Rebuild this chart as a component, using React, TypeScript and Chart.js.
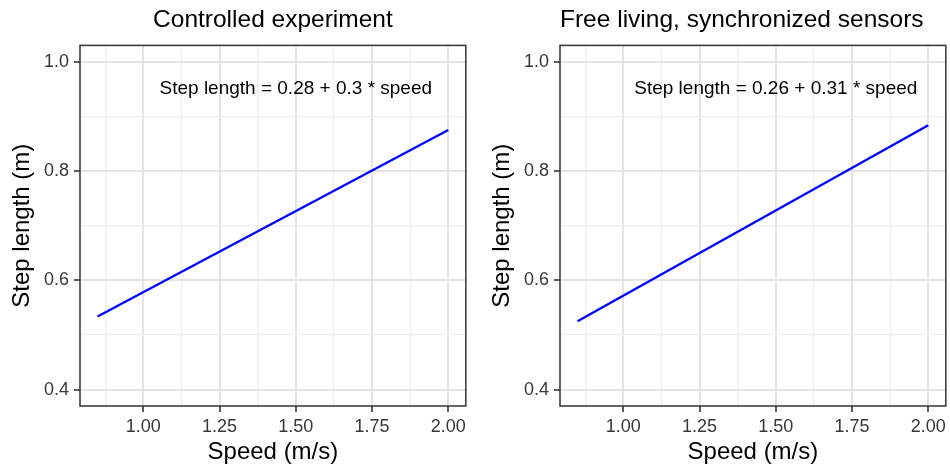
import React, { useEffect, useRef } from "react";
import { Chart, registerables } from "chart.js";

Chart.register(...registerables);

// ---- data ----
const panelTitles = ["Controlled experiment", "Free living, synchronized sensors"];
const equationLabels = [
  "Step length = 0.28 + 0.3 * speed",
  "Step length = 0.26 + 0.31 * speed",
];
const speedValues = [0.85, 2.0];
const stepLengthControlled = [0.534, 0.875];
const stepLengthFreeLiving = [0.525, 0.884];
const xMajorTicks = [1.0, 1.25, 1.5, 1.75, 2.0];
const xMinorTicks = [0.875, 1.125, 1.375, 1.625, 1.875];
const yMajorTicks = [0.4, 0.6, 0.8, 1.0];
const yMinorTicks = [0.5, 0.7, 0.9];
const xLimits = [0.7925, 2.0575];
const yLimits = [0.37, 1.03];
const equationPosition = [1.5, 0.95];
const xAxisTitle = "Speed (m/s)";
const yAxisTitle = "Step length (m)";

const FONT = '"Liberation Sans", Arial, Helvetica, sans-serif';

const isIn = (list: number[], v: number) => list.some((m) => Math.abs(m - v) < 1e-9);

function buildChart(canvas: HTMLCanvasElement, idx: number) {
  const values = idx === 0 ? stepLengthControlled : stepLengthFreeLiving;
  const xTicks = [...xMinorTicks, ...xMajorTicks].sort((a, b) => a - b);
  const yTicks = [...yMinorTicks, ...yMajorTicks].sort((a, b) => a - b);

  const borderPlugin = {
    id: "panelBorder",
    afterDraw(chart: any) {
      const { ctx, chartArea } = chart;
      ctx.save();
      ctx.strokeStyle = "#333333";
      ctx.lineWidth = 1.5;
      ctx.strokeRect(chartArea.left, chartArea.top, chartArea.right - chartArea.left, chartArea.bottom - chartArea.top);
      ctx.restore();
    },
  };

  const annotationPlugin = {
    id: "equationText",
    afterDatasetsDraw(chart: any) {
      const { ctx, scales } = chart;
      const px = scales.x.getPixelForValue(equationPosition[0]);
      const py = scales.y.getPixelForValue(equationPosition[1]);
      ctx.save();
      ctx.font = `19px ${FONT}`;
      ctx.fillStyle = "#000000";
      ctx.textAlign = "center";
      ctx.textBaseline = "middle";
      ctx.fillText(equationLabels[idx], px, py);
      ctx.restore();
    },
  };

  const gridOpts = (major: number[]) => ({
    color: (c: any) => (c.tick && isIn(major, c.tick.value) ? "#E4E4E4" : "#EFEFEF"),
    lineWidth: (c: any) => (c.tick && isIn(major, c.tick.value) ? 2 : 1.2),
    tickColor: (c: any) => (c.tick && isIn(major, c.tick.value) ? "#333333" : "rgba(0,0,0,0)"),
    tickWidth: 1.6,
    tickLength: 6,
    drawTicks: true,
    drawOnChartArea: true,
  });

  return new Chart(canvas, {
    type: "line",
    data: {
      datasets: [
        {
          data: speedValues.map((x, i) => ({ x, y: values[i] })),
          borderColor: "#0000FF",
          borderWidth: 2.3,
          pointRadius: 0,
          fill: false,
          tension: 0,
        },
      ],
    },
    options: {
      animation: false,
      responsive: false,
      devicePixelRatio: 1,
      layout: { padding: { left: 0, right: 2.5, top: 0, bottom: 0 } },
      plugins: {
        legend: { display: false },
        tooltip: { enabled: false },
        title: {
          display: true,
          text: panelTitles[idx],
          align: idx === 0 ? "center" : "start",
          fullSize: false,
          color: "#000000",
          font: { family: FONT, size: 24.5, weight: "normal" },
          padding: { top: 6, bottom: 10 },
        },
      },
      scales: {
        x: {
          type: "linear",
          min: xLimits[0],
          max: xLimits[1],
          afterBuildTicks: (s: any) => {
            s.ticks = xTicks.map((v) => ({ value: v }));
          },
          afterFit: (s: any) => {
            s.height = 62;
          },
          ticks: {
            autoSkip: false,
            maxRotation: 0,
            minRotation: 0,
            padding: 4,
            color: "#383838",
            font: { family: FONT, size: 18 },
            callback: (v: any) => (isIn(xMajorTicks, Number(v)) ? Number(v).toFixed(2) : ""),
          },
          grid: gridOpts(xMajorTicks),
          border: { display: false },
          title: {
            display: true,
            text: xAxisTitle,
            color: "#000000",
            font: { family: FONT, size: 24 },
            padding: { top: 0, bottom: 1 },
          },
        },
        y: {
          type: "linear",
          min: yLimits[0],
          max: yLimits[1],
          afterBuildTicks: (s: any) => {
            s.ticks = yTicks.map((v) => ({ value: v }));
          },
          afterFit: (s: any) => {
            s.width = 80;
          },
          ticks: {
            autoSkip: false,
            padding: 5,
            color: "#383838",
            font: { family: FONT, size: 18 },
            callback: (v: any) => (isIn(yMajorTicks, Number(v)) ? Number(v).toFixed(1) : ""),
          },
          grid: gridOpts(yMajorTicks),
          border: { display: false },
          title: {
            display: true,
            text: yAxisTitle,
            color: "#000000",
            font: { family: FONT, size: 24 },
            padding: { top: 8, bottom: 0 },
          },
        },
      },
    } as any,
    plugins: [borderPlugin, annotationPlugin],
  });
}

function Panel({ idx, left }: { idx: number; left: number }) {
  const ref = useRef<HTMLCanvasElement | null>(null);
  useEffect(() => {
    if (!ref.current) return;
    const chart = buildChart(ref.current, idx);
    return () => chart.destroy();
  }, [idx]);
  return (
    <canvas
      ref={ref}
      width={470}
      height={468}
      style={{ position: "absolute", left, top: 0, width: 470, height: 468 }}
    />
  );
}

export default function App() {
  return (
    <div
      style={{
        position: "absolute",
        left: 0,
        top: 0,
        width: 950,
        height: 468,
        background: "#ffffff",
        overflow: "hidden",
      }}
    >
      <Panel idx={0} left={0} />
      <Panel idx={1} left={480} />
    </div>
  );
}
